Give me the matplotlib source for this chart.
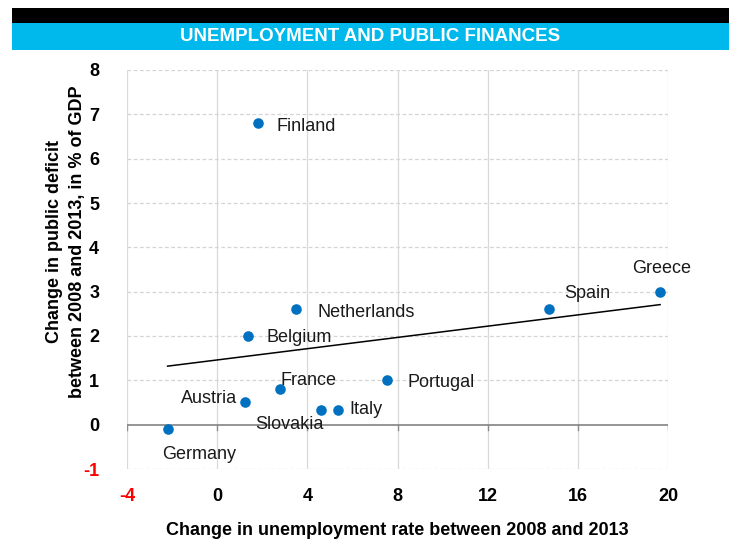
import numpy as np
import matplotlib.pyplot as plt
from matplotlib.patches import Rectangle

plt.rcParams['font.family'] = ['Liberation Sans Narrow', 'Liberation Sans', 'DejaVu Sans']

countries = ["Finland", "Netherlands", "Belgium", "Spain", "Greece", "Portugal",
             "France", "Austria", "Slovakia", "Italy", "Germany"]
unemp_change = [1.8, 3.5, 1.35, 14.7, 19.65, 7.55, 2.8, 1.25, 4.6, 5.35, -2.2]
deficit_change = [6.8, 2.6, 2.0, 2.6, 3.0, 1.0, 0.8, 0.52, 0.33, 0.33, -0.09]

# label offsets in pixels and alignment
label_pos = {
    "Finland": (19, -3, "left"),
    "Netherlands": (21, -3, "left"),
    "Belgium": (19, -2, "left"),
    "Spain": (16, 16, "left"),
    "Greece": (2, 23, "center"),
    "Portugal": (20, -2, "left"),
    "France": (0, 9, "left"),
    "Austria": (-8, 3, "right"),
    "Slovakia": (3, -14, "right"),
    "Italy": (12, 1, "left"),
    "Germany": (-5, -26, "left"),
}

xticks = [-4, 0, 4, 8, 12, 16, 20]
yticks = [-1, 0, 1, 2, 3, 4, 5, 6, 7, 8]

fig = plt.figure(figsize=(7.29, 5.41), dpi=100)

# title banner
fig.patches.append(Rectangle((12 / 729, 1 - 23 / 541), 1, 15 / 541, transform=fig.transFigure,
                             facecolor="black", edgecolor="none"))
fig.patches.append(Rectangle((12 / 729, 1 - 50 / 541), 1, 27 / 541, transform=fig.transFigure,
                             facecolor="#00B9EC", edgecolor="none"))
fig.text(0.507, 1 - 36.5 / 541, "UNEMPLOYMENT AND PUBLIC FINANCES", color="white",
         fontsize=13.5, fontweight="bold", ha="center", va="center")

ax = fig.add_axes([127 / 729, 1 - 469 / 541, 541 / 729, 399 / 541])
ax.set_xlim(-4, 20)
ax.set_ylim(-1, 8)
for s in ax.spines.values():
    s.set_visible(False)

for yt in yticks:
    if yt != 0:
        ax.axhline(yt, color="#D4D4D4", lw=0.9, ls=(0, (3, 2)), zorder=0)
for xt in xticks:
    ax.axvline(xt, color="#D9D9D9", lw=0.9, zorder=0)
ax.axhline(0, color="#8C8C8C", lw=1.3, zorder=1)
for xt in xticks:
    ax.plot([xt, xt], [0, -0.12], color="#8C8C8C", lw=1.0, zorder=1)

ax.scatter(unemp_change, deficit_change, s=58, color="#0070C0", zorder=3, linewidths=0)

# linear trend
coef = np.polyfit(unemp_change, deficit_change, 1)
xs = np.array([min(unemp_change), max(unemp_change)])
ax.plot(xs, np.polyval(coef, xs), color="black", lw=1.1, zorder=2)

for name, x, y in zip(countries, unemp_change, deficit_change):
    dx, dy, ha = label_pos[name]
    ax.annotate(name, (x, y), xytext=(dx, dy), textcoords="offset pixels",
                ha=ha, va="center", fontsize=13, color="#1a1a1a")

ax.set_xticks(xticks)
ax.set_yticks(yticks)
ax.set_xticklabels([str(t) for t in xticks], fontsize=13, fontweight="bold")
ax.set_yticklabels([str(t) for t in yticks], fontsize=13, fontweight="bold")
ax.tick_params(length=0, pad=14)
ax.tick_params(axis="y", pad=20)
ax.get_xticklabels()[0].set_color("#FF0000")
ax.get_yticklabels()[0].set_color("#FF0000")

ax.set_xlabel("Change in unemployment rate between 2008 and 2013", fontsize=13,
              fontweight="bold", labelpad=12)
ax.set_ylabel("Change in public deficit\nbetween 2008 and 2013, in % of GDP", fontsize=13,
              fontweight="bold", labelpad=6, linespacing=1.5)
ax.yaxis.set_label_coords(-0.075, 0.57)

fig.savefig("out.png", dpi=100)
